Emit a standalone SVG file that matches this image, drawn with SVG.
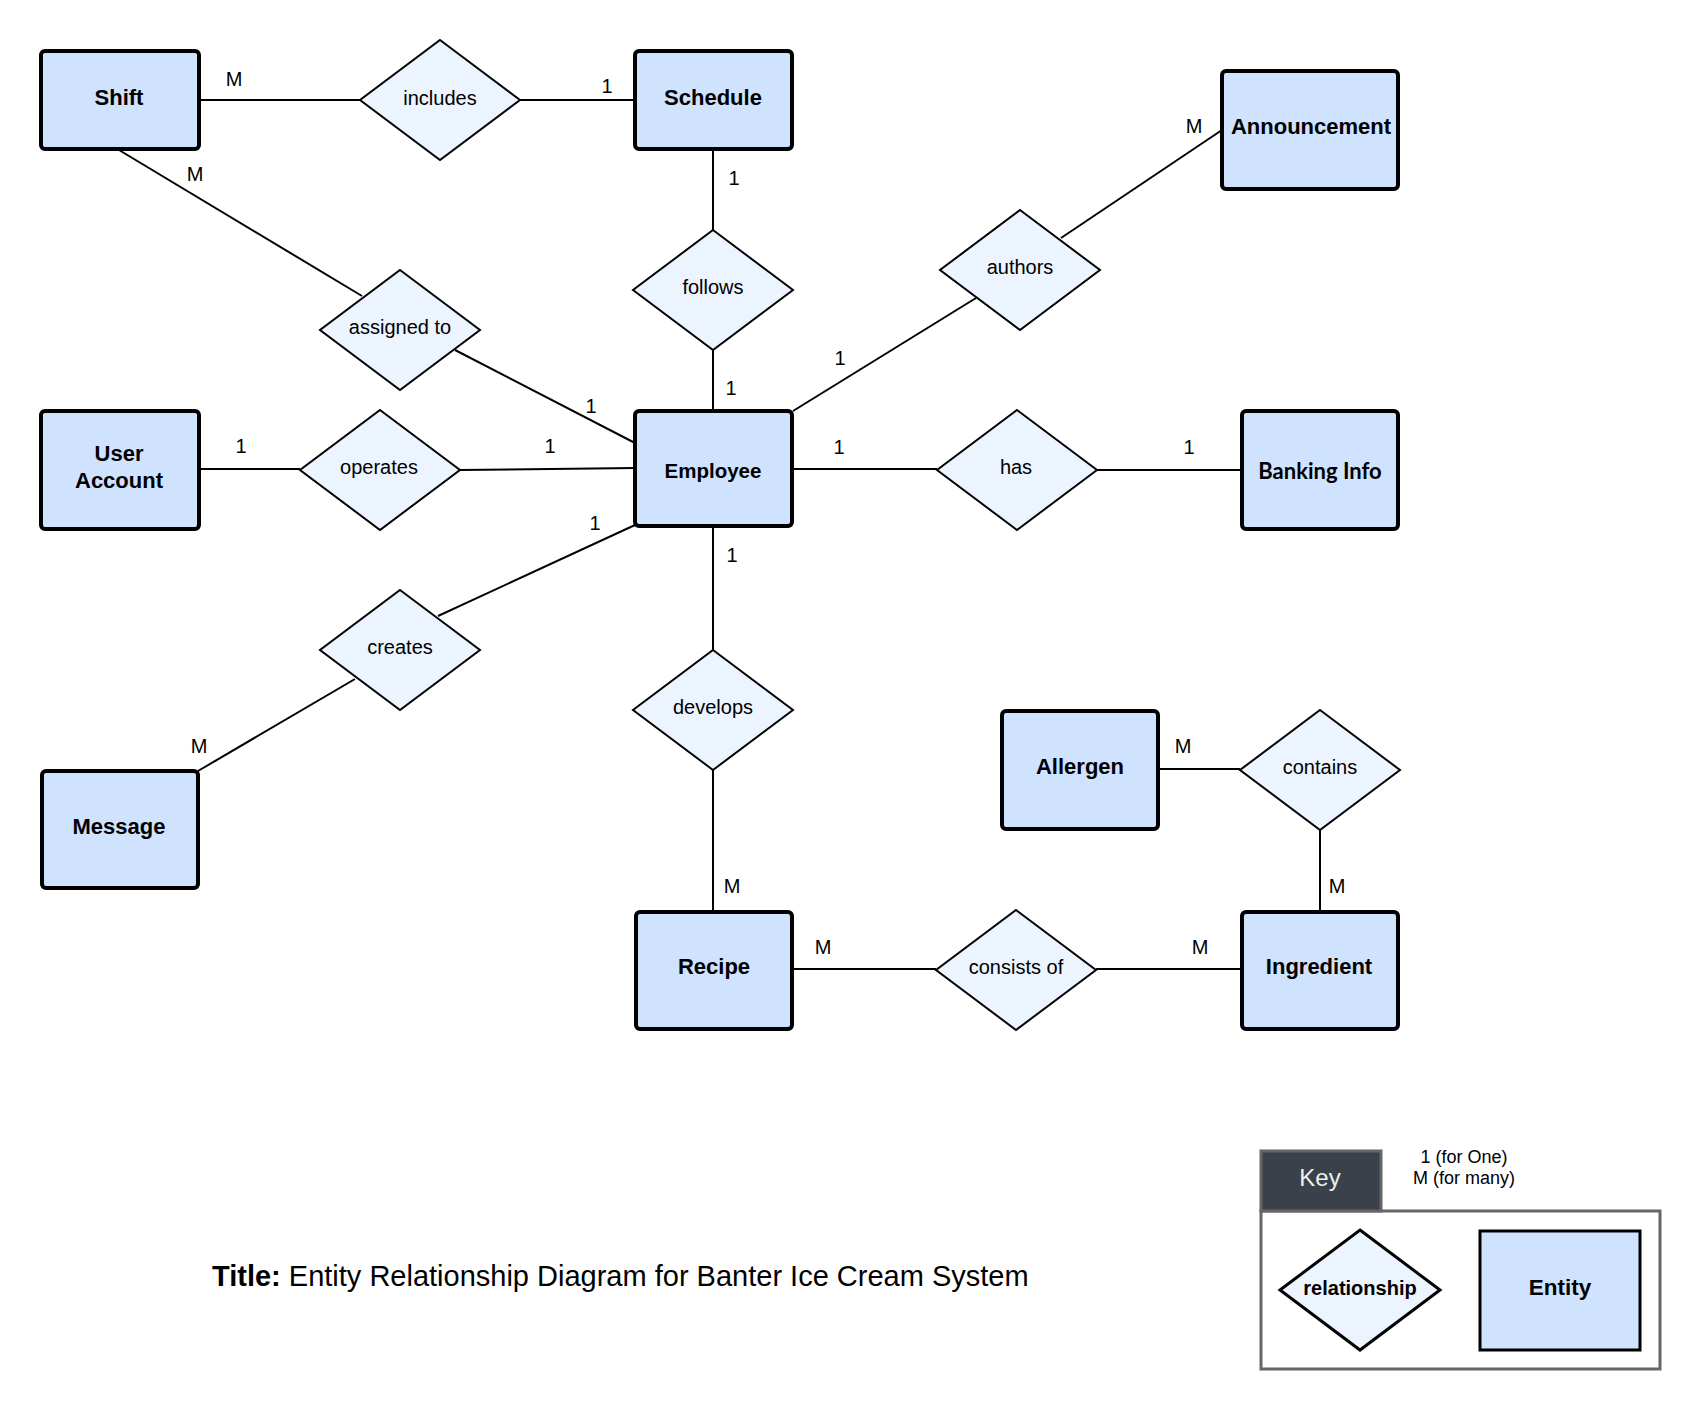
<svg xmlns="http://www.w3.org/2000/svg" width="1700" height="1410" viewBox="0 0 1700 1410">
  <style>
    .ent { fill: #cfe2fe; stroke: #000; stroke-width: 4; }
    .rel { fill: #ecf4ff; stroke: #000; stroke-width: 2; }
    .line { stroke: #000; stroke-width: 2; fill: none; }
    .et { font-family: "Liberation Sans", Arial, sans-serif; font-weight: bold; font-size: 22px; text-anchor: middle; fill: #000; }
    .rt { font-family: "Liberation Sans", Arial, sans-serif; font-size: 20px; text-anchor: middle; fill: #000; }
    .card { font-family: "Liberation Sans", Arial, sans-serif; font-size: 20px; text-anchor: middle; fill: #000; }
  </style>
  <rect width="1700" height="1410" fill="#fff"/>

  <!-- connectors -->
  <g id="connectors" class="line">
    <line x1="199" y1="100" x2="360" y2="100"/>
    <line x1="520" y1="100" x2="635" y2="100"/>
    <line x1="713" y1="149" x2="713" y2="230"/>
    <line x1="713" y1="350" x2="713" y2="411"/>
    <line x1="119" y1="150" x2="362" y2="296"/>
    <line x1="455" y1="350" x2="635" y2="443"/>
    <line x1="1222" y1="130" x2="1061" y2="238"/>
    <line x1="976" y1="298" x2="793" y2="411"/>
    <line x1="199" y1="469" x2="300" y2="469"/>
    <line x1="460" y1="470" x2="635" y2="468"/>
    <line x1="792" y1="469" x2="937" y2="469"/>
    <line x1="1097" y1="470" x2="1242" y2="470"/>
    <line x1="635" y1="525" x2="438" y2="616"/>
    <line x1="355" y1="679" x2="198" y2="771"/>
    <line x1="713" y1="526" x2="713" y2="650"/>
    <line x1="713" y1="770" x2="713" y2="912"/>
    <line x1="1158" y1="769" x2="1240" y2="769"/>
    <line x1="1320" y1="830" x2="1320" y2="912"/>
    <line x1="792" y1="969" x2="936" y2="969"/>
    <line x1="1096" y1="969" x2="1242" y2="969"/>
  </g>

  <!-- cardinality labels -->
  <g id="cardinalities" class="card">
    <text x="234" y="86">M</text>
    <text x="607" y="93">1</text>
    <text x="195" y="181">M</text>
    <text x="734" y="185">1</text>
    <text x="731" y="395">1</text>
    <text x="591" y="413">1</text>
    <text x="1194" y="133">M</text>
    <text x="840" y="365">1</text>
    <text x="241" y="453">1</text>
    <text x="550" y="453">1</text>
    <text x="839" y="454">1</text>
    <text x="1189" y="454">1</text>
    <text x="595" y="530">1</text>
    <text x="732" y="562">1</text>
    <text x="199" y="753">M</text>
    <text x="1183" y="753">M</text>
    <text x="732" y="893">M</text>
    <text x="1337" y="893">M</text>
    <text x="823" y="954">M</text>
    <text x="1200" y="954">M</text>
  </g>

  <!-- entities -->
  <g id="shift"><rect class="ent" x="41" y="51" width="158" height="98" rx="4"/><text class="et" x="119" y="105">Shift</text></g>
  <g id="schedule"><rect class="ent" x="635" y="51" width="157" height="98" rx="4"/><text class="et" x="713" y="105">Schedule</text></g>
  <g id="announcement"><rect class="ent" x="1222" y="71" width="176" height="118" rx="4"/><text class="et" x="1311" y="134">Announcement</text></g>
  <g id="user-account"><rect class="ent" x="41" y="411" width="158" height="118" rx="4"/><text class="et" x="119" y="461">User</text><text class="et" x="119" y="488">Account</text></g>
  <g id="employee"><rect class="ent" x="635" y="411" width="157" height="115" rx="4"/><text class="et" x="713" y="478" style="font-size: 20.5px">Employee</text></g>
  <g id="banking-info"><rect class="ent" x="1242" y="411" width="156" height="118" rx="4"/><text class="et" x="1320" y="479" style="font-family: Lato, 'Liberation Sans', sans-serif">Banking Info</text></g>
  <g id="message"><rect class="ent" x="42" y="771" width="156" height="117" rx="4"/><text class="et" x="119" y="834">Message</text></g>
  <g id="allergen"><rect class="ent" x="1002" y="711" width="156" height="118" rx="4"/><text class="et" x="1080" y="774">Allergen</text></g>
  <g id="recipe"><rect class="ent" x="636" y="912" width="156" height="117" rx="4"/><text class="et" x="714" y="974">Recipe</text></g>
  <g id="ingredient"><rect class="ent" x="1242" y="912" width="156" height="117" rx="4"/><text class="et" x="1319" y="974">Ingredient</text></g>

  <!-- relationships -->
  <g id="includes"><polygon class="rel" points="440,40 520,100 440,160 360,100"/><text class="rt" x="440" y="105">includes</text></g>
  <g id="follows"><polygon class="rel" points="713,230 793,290 713,350 633,290"/><text class="rt" x="713" y="294">follows</text></g>
  <g id="authors"><polygon class="rel" points="1020,210 1100,270 1020,330 940,270"/><text class="rt" x="1020" y="274">authors</text></g>
  <g id="assigned-to"><polygon class="rel" points="400,270 480,330 400,390 320,330"/><text class="rt" x="400" y="334">assigned to</text></g>
  <g id="operates"><polygon class="rel" points="380,410 460,470 380,530 300,470"/><text class="rt" x="379" y="474">operates</text></g>
  <g id="has"><polygon class="rel" points="1017,410 1097,470 1017,530 937,470"/><text class="rt" x="1016" y="474">has</text></g>
  <g id="creates"><polygon class="rel" points="400,590 480,650 400,710 320,650"/><text class="rt" x="400" y="654">creates</text></g>
  <g id="develops"><polygon class="rel" points="713,650 793,710 713,770 633,710"/><text class="rt" x="713" y="714">develops</text></g>
  <g id="contains"><polygon class="rel" points="1320,710 1400,770 1320,830 1240,770"/><text class="rt" x="1320" y="774">contains</text></g>
  <g id="consists-of"><polygon class="rel" points="1016,910 1096,970 1016,1030 936,970"/><text class="rt" x="1016" y="974">consists of</text></g>

  <!-- title -->
  <text id="title" x="212" y="1286" font-family="Liberation Sans, Arial, sans-serif" font-size="29" fill="#000"><tspan font-weight="bold">Title:</tspan> Entity Relationship Diagram for Banter Ice Cream System</text>

  <!-- legend -->
  <g id="key">
    <rect x="1261" y="1211" width="399" height="158" fill="#fff" stroke="#666" stroke-width="3"/>
    <rect x="1261" y="1151" width="120" height="60" fill="#3b414b" stroke="#666" stroke-width="3"/>
    <text x="1320" y="1186" font-family="Liberation Sans, Arial, sans-serif" font-size="24" fill="#eee" text-anchor="middle">Key</text>
    <text x="1464" y="1163" font-family="Liberation Sans, Arial, sans-serif" font-size="18" fill="#000" text-anchor="middle">1 (for One)</text>
    <text x="1464" y="1184" font-family="Liberation Sans, Arial, sans-serif" font-size="18" fill="#000" text-anchor="middle">M (for many)</text>
    <polygon points="1360,1230 1440,1290 1360,1350 1280,1290" fill="#ecf4ff" stroke="#000" stroke-width="3"/>
    <text x="1360" y="1295" font-family="Liberation Sans, Arial, sans-serif" font-size="20" font-weight="bold" fill="#000" text-anchor="middle">relationship</text>
    <rect x="1480" y="1231" width="160" height="119" fill="#cfe2fe" stroke="#000" stroke-width="3"/>
    <text x="1560" y="1295" font-family="Liberation Sans, Arial, sans-serif" font-size="22.5" font-weight="bold" fill="#000" text-anchor="middle">Entity</text>
  </g>
</svg>
